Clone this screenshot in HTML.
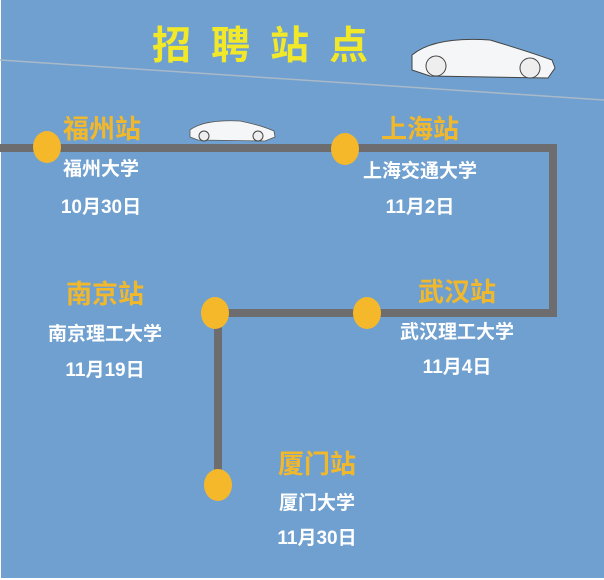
<!DOCTYPE html>
<html><head><meta charset="utf-8"><style>
body{margin:0;width:604px;height:580px;overflow:hidden;background:#fff}
.bg{position:absolute;left:1px;top:0;width:603px;height:578px;background:#6fa0cf}
.t{position:absolute;font-family:"Liberation Sans","Noto Sans CJK SC",sans-serif;font-weight:bold;white-space:nowrap;transform:translateX(-50%);line-height:1}
.y{color:#f2b82c;font-size:26px}
.w{color:#fff;font-size:19px}
</style></head><body>
<div class="bg"></div>
<svg width="604" height="580" style="position:absolute;left:0;top:0">
<line x1="0" y1="60" x2="604" y2="100" stroke="#a9b9c8" stroke-width="1.5"/>
<polyline points="0,148 553,148 553,313 218,313 218,485" fill="none" stroke="#6d6d6f" stroke-width="8"/>
<g fill="#f5b82b">
<ellipse cx="47" cy="147" rx="14" ry="16"/>
<ellipse cx="345" cy="149" rx="14" ry="16"/>
<ellipse cx="215" cy="313" rx="14" ry="16"/>
<ellipse cx="367" cy="313" rx="14" ry="16"/>
<ellipse cx="218" cy="485" rx="14" ry="16"/>
</g>
<g>
<path d="M412,55 C430,40 460,38 490,40 C510,46 530,52 552,60 L555,68 L548,78 L430,76 L412,70 Z" fill="#f4f6f8" stroke="#444" stroke-width="1"/>
<circle cx="436" cy="66" r="10" fill="#eee" stroke="#444"/>
<circle cx="530" cy="68" r="10" fill="#eee" stroke="#444"/>
<path d="M190,130 C200,122 220,120 240,121 C255,124 265,127 274,131 L275,137 L265,141 L198,140 L190,137 Z" fill="#f4f6f8" stroke="#555" stroke-width="0.8"/>
<circle cx="204" cy="136" r="5" fill="#eee" stroke="#444"/>
<circle cx="258" cy="136" r="5" fill="#eee" stroke="#444"/>
</g>
</svg>
<div class="t" style="left:260px;top:27px;color:#f1e82a;font-size:39px;letter-spacing:20px;padding-left:20px">招聘站点</div>
<div class="t y" style="left:102px;top:116px">福州站</div>
<div class="t w" style="left:101px;top:160px">福州大学</div>
<div class="t w" style="left:101px;top:198px">10月30日</div>
<div class="t y" style="left:420px;top:116px">上海站</div>
<div class="t w" style="left:420px;top:162px">上海交通大学</div>
<div class="t w" style="left:420px;top:198px">11月2日</div>
<div class="t y" style="left:105px;top:281px">南京站</div>
<div class="t w" style="left:105px;top:325px">南京理工大学</div>
<div class="t w" style="left:105px;top:361px">11月19日</div>
<div class="t y" style="left:457px;top:279px">武汉站</div>
<div class="t w" style="left:457px;top:323px">武汉理工大学</div>
<div class="t w" style="left:457px;top:358px">11月4日</div>
<div class="t y" style="left:317px;top:451px">厦门站</div>
<div class="t w" style="left:317px;top:494px">厦门大学</div>
<div class="t w" style="left:317px;top:529px">11月30日</div>
</body></html>
